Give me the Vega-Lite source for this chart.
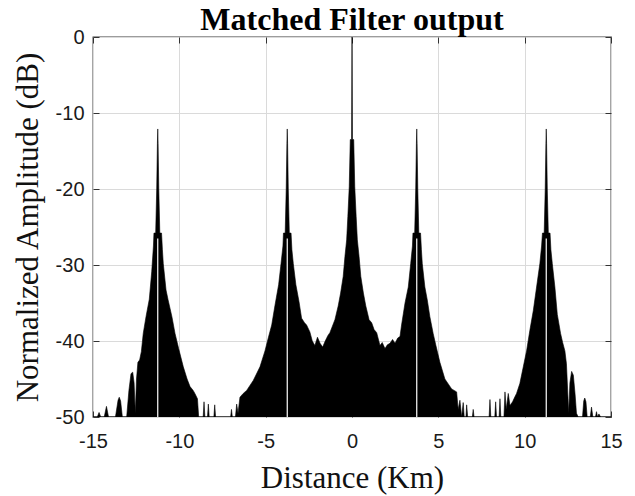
{
  "$schema": "https://vega.github.io/schema/vega-lite/v6.json",
  "width": 518,
  "height": 380,
  "autosize": {"type": "none"},
  "padding": {"left": 93, "top": 37, "right": 24, "bottom": 79},
  "background": "white",
  "title": {"text": "Matched Filter output", "font": "Liberation Serif", "fontSize": 32, "fontWeight": "bold", "color": "black", "anchor": "middle", "baseline": "bottom", "offset": -42, "frame": "group"},
  "config": {
    "view": {"stroke": "#3a3a3a", "strokeWidth": 1.3},
    "axis": {"domain": false, "tickColor": "#333333", "tickSize": -6, "tickWidth": 1, "gridColor": "#dadada", "gridWidth": 1, "labelFont": "Liberation Sans", "labelFontSize": 20, "labelColor": "#1a1a1a", "labelFlush": false, "titleFont": "Liberation Serif", "titleFontSize": 31, "titleFontWeight": "normal", "titleColor": "#111111"}
  },
  "datasets": {
    "env": [
      {"x": -15, "y": -50}, {"x": -14.75, "y": -50}, {"x": -14.65, "y": -49.4}, {"x": -14.55, "y": -50},
      {"x": -14.35, "y": -50}, {"x": -14.22, "y": -48.6}, {"x": -14.1, "y": -50},
      {"x": -13.7, "y": -50}, {"x": -13.55, "y": -47.8}, {"x": -13.48, "y": -47.4}, {"x": -13.4, "y": -47.9}, {"x": -13.3, "y": -50},
      {"x": -13.05, "y": -50}, {"x": -12.92, "y": -46.5}, {"x": -12.8, "y": -44.3}, {"x": -12.7, "y": -44.1}, {"x": -12.62, "y": -45.5}, {"x": -12.55, "y": -49.5},
      {"x": -12.48, "y": -45}, {"x": -12.4, "y": -42.8}, {"x": -12.3, "y": -42.5}, {"x": -12.2, "y": -41.4}, {"x": -12.09, "y": -39},
      {"x": -11.93, "y": -36.8}, {"x": -11.74, "y": -34.5}, {"x": -11.6, "y": -30.9}, {"x": -11.5, "y": -27.5}, {"x": -11.47, "y": -25.8},
      {"x": -11.37, "y": -25.8}, {"x": -11.31, "y": -20}, {"x": -11.27, "y": -14}, {"x": -11.25, "y": -12.1}, {"x": -11.23, "y": -14},
      {"x": -11.19, "y": -20}, {"x": -11.13, "y": -25.8}, {"x": -11.03, "y": -25.8}, {"x": -10.98, "y": -28}, {"x": -10.93, "y": -29.8},
      {"x": -10.77, "y": -33.3}, {"x": -10.65, "y": -34.6}, {"x": -10.43, "y": -36.8}, {"x": -10.25, "y": -39}, {"x": -10.04, "y": -41},
      {"x": -9.77, "y": -43.4}, {"x": -9.55, "y": -45}, {"x": -9.38, "y": -46}, {"x": -9.2, "y": -46.5}, {"x": -9.1, "y": -46.9},
      {"x": -8.95, "y": -47.6}, {"x": -8.88, "y": -50}, {"x": -8.62, "y": -50}, {"x": -8.57, "y": -48}, {"x": -8.52, "y": -50},
      {"x": -8.37, "y": -50}, {"x": -8.32, "y": -48.3}, {"x": -8.27, "y": -50}, {"x": -8.0, "y": -50}, {"x": -7.95, "y": -48.4}, {"x": -7.9, "y": -50},
      {"x": -7.03, "y": -50}, {"x": -6.98, "y": -49}, {"x": -6.93, "y": -50}, {"x": -6.75, "y": -50}, {"x": -6.68, "y": -48.3}, {"x": -6.6, "y": -49.5},
      {"x": -6.49, "y": -47.4}, {"x": -6.3, "y": -46.9}, {"x": -6.1, "y": -46.5}, {"x": -5.72, "y": -45.2}, {"x": -5.33, "y": -43.4},
      {"x": -5.04, "y": -41.3}, {"x": -4.85, "y": -39.6}, {"x": -4.65, "y": -37.9}, {"x": -4.46, "y": -35.3}, {"x": -4.25, "y": -32.6},
      {"x": -4.11, "y": -29.8}, {"x": -4.0, "y": -27.5}, {"x": -3.97, "y": -25.8}, {"x": -3.87, "y": -25.8}, {"x": -3.81, "y": -20},
      {"x": -3.77, "y": -14}, {"x": -3.75, "y": -12.1}, {"x": -3.73, "y": -14}, {"x": -3.69, "y": -20}, {"x": -3.63, "y": -25.8},
      {"x": -3.53, "y": -25.8}, {"x": -3.48, "y": -28}, {"x": -3.4, "y": -29.8}, {"x": -3.25, "y": -32.6}, {"x": -3.07, "y": -34.8},
      {"x": -2.92, "y": -37}, {"x": -2.75, "y": -37.6}, {"x": -2.63, "y": -37.9}, {"x": -2.44, "y": -38.8}, {"x": -2.3, "y": -40},
      {"x": -2.15, "y": -40.6}, {"x": -2.0, "y": -39.5}, {"x": -1.85, "y": -40.3}, {"x": -1.7, "y": -40.8}, {"x": -1.55, "y": -40},
      {"x": -1.4, "y": -39.3}, {"x": -1.28, "y": -38.9}, {"x": -0.99, "y": -37.2}, {"x": -0.8, "y": -35.4}, {"x": -0.66, "y": -33.7},
      {"x": -0.51, "y": -31.5}, {"x": -0.41, "y": -28.9}, {"x": -0.31, "y": -26.7}, {"x": -0.24, "y": -23.6}, {"x": -0.16, "y": -19.7},
      {"x": -0.1, "y": -13.5}, {"x": -0.025, "y": -13.5}, {"x": 0, "y": 0}, {"x": 0.025, "y": -13.5}, {"x": 0.1, "y": -13.5},
      {"x": 0.16, "y": -19.7}, {"x": 0.24, "y": -23.6}, {"x": 0.31, "y": -26.7}, {"x": 0.41, "y": -28.9}, {"x": 0.51, "y": -31.5},
      {"x": 0.66, "y": -33.7}, {"x": 0.8, "y": -35.4}, {"x": 0.99, "y": -37.2}, {"x": 1.14, "y": -37.6}, {"x": 1.28, "y": -38.5},
      {"x": 1.43, "y": -38.9}, {"x": 1.62, "y": -40.6}, {"x": 1.75, "y": -40.2}, {"x": 1.91, "y": -41}, {"x": 2.05, "y": -40.5},
      {"x": 2.2, "y": -40.3}, {"x": 2.35, "y": -39.8}, {"x": 2.49, "y": -40.3}, {"x": 2.65, "y": -39.6}, {"x": 2.78, "y": -39.4},
      {"x": 2.87, "y": -37.9}, {"x": 3.07, "y": -35}, {"x": 3.26, "y": -32.9}, {"x": 3.4, "y": -29.8}, {"x": 3.5, "y": -27.5},
      {"x": 3.53, "y": -25.8}, {"x": 3.63, "y": -25.8}, {"x": 3.69, "y": -20}, {"x": 3.73, "y": -14}, {"x": 3.75, "y": -12.1},
      {"x": 3.77, "y": -14}, {"x": 3.81, "y": -20}, {"x": 3.87, "y": -25.8}, {"x": 3.97, "y": -25.8}, {"x": 4.02, "y": -28},
      {"x": 4.07, "y": -29.8}, {"x": 4.22, "y": -32.9}, {"x": 4.36, "y": -34.6}, {"x": 4.51, "y": -36.8}, {"x": 4.7, "y": -39},
      {"x": 4.86, "y": -40.6}, {"x": 5.09, "y": -42.8}, {"x": 5.38, "y": -45}, {"x": 5.77, "y": -46.3}, {"x": 6.06, "y": -46.7},
      {"x": 6.15, "y": -49}, {"x": 6.25, "y": -47.8}, {"x": 6.35, "y": -50}, {"x": 6.44, "y": -48.1}, {"x": 6.5, "y": -50},
      {"x": 6.6, "y": -50}, {"x": 6.64, "y": -48.4}, {"x": 6.7, "y": -50}, {"x": 6.97, "y": -50}, {"x": 7.02, "y": -49}, {"x": 7.07, "y": -50},
      {"x": 7.94, "y": -50}, {"x": 7.99, "y": -47.7}, {"x": 8.04, "y": -50}, {"x": 8.27, "y": -50}, {"x": 8.32, "y": -48}, {"x": 8.37, "y": -50},
      {"x": 8.52, "y": -50}, {"x": 8.57, "y": -47.6}, {"x": 8.62, "y": -50}, {"x": 8.8, "y": -50}, {"x": 8.86, "y": -46.7}, {"x": 8.93, "y": -49},
      {"x": 9.05, "y": -46.9}, {"x": 9.15, "y": -48.5}, {"x": 9.3, "y": -48}, {"x": 9.4, "y": -47.5}, {"x": 9.53, "y": -46.9},
      {"x": 9.72, "y": -45.6}, {"x": 9.92, "y": -43.4}, {"x": 10.11, "y": -41.3}, {"x": 10.3, "y": -38.6}, {"x": 10.5, "y": -36},
      {"x": 10.69, "y": -32.9}, {"x": 10.88, "y": -29.8}, {"x": 10.98, "y": -27.5}, {"x": 11.03, "y": -25.8}, {"x": 11.13, "y": -25.8},
      {"x": 11.19, "y": -20}, {"x": 11.23, "y": -14}, {"x": 11.25, "y": -12.1}, {"x": 11.27, "y": -14}, {"x": 11.31, "y": -20},
      {"x": 11.37, "y": -25.8}, {"x": 11.47, "y": -25.8}, {"x": 11.52, "y": -28}, {"x": 11.6, "y": -29.8}, {"x": 11.75, "y": -32.9},
      {"x": 11.89, "y": -36.5}, {"x": 12.08, "y": -39}, {"x": 12.2, "y": -40.2}, {"x": 12.33, "y": -41.3}, {"x": 12.42, "y": -43},
      {"x": 12.5, "y": -47}, {"x": 12.55, "y": -49.5}, {"x": 12.62, "y": -45.5}, {"x": 12.72, "y": -44}, {"x": 12.82, "y": -44.5},
      {"x": 12.92, "y": -47}, {"x": 13.0, "y": -49.5}, {"x": 13.1, "y": -50}, {"x": 13.35, "y": -50}, {"x": 13.42, "y": -47.9},
      {"x": 13.48, "y": -47.5}, {"x": 13.55, "y": -48}, {"x": 13.62, "y": -50}, {"x": 13.8, "y": -50}, {"x": 13.87, "y": -48.7},
      {"x": 13.95, "y": -50}, {"x": 14.1, "y": -50}, {"x": 14.16, "y": -49.3}, {"x": 14.22, "y": -50}, {"x": 14.3, "y": -49.6},
      {"x": 14.4, "y": -50}, {"x": 15, "y": -50}
    ],
    "gaps": [
      {"x": -11.25, "y": -26.5, "y2": -50},
      {"x": -3.75, "y": -26.5, "y2": -50},
      {"x": 3.75, "y": -26.5, "y2": -50},
      {"x": 11.25, "y": -26.5, "y2": -50}
    ]
  },
  "layer": [
    {
      "data": {"name": "env"},
      "mark": {"type": "area", "color": "black", "stroke": "black", "strokeWidth": 0.6, "clip": true},
      "encoding": {
        "x": {"field": "x", "type": "quantitative", "scale": {"domain": [-15, 15], "nice": false, "zero": false},
          "axis": {"orient": "bottom", "values": [-15, -10, -5, 0, 5, 10, 15], "grid": true, "labelPadding": 20, "labelExpr": "'' + datum.value",
            "title": "Distance (Km)", "titleX": 259, "titleY": 70, "titleBaseline": "alphabetic", "titleAnchor": "middle"}},
        "y": {"field": "y", "type": "quantitative", "scale": {"domain": [-50, 0], "nice": false, "zero": false},
          "axis": {"orient": "left", "values": [-50, -40, -30, -20, -10, 0], "grid": true, "labelPadding": 15, "labelExpr": "'' + datum.value",
            "title": "Normalized Amplitude (dB)", "titleX": -56, "titleY": 190, "titleAngle": -90, "titleBaseline": "alphabetic", "titleAnchor": "middle"}},
        "y2": {"datum": -50}
      }
    },
    {
      "data": {"name": "gaps"},
      "mark": {"type": "rule", "color": "white", "strokeWidth": 1.2},
      "encoding": {
        "x": {"field": "x", "type": "quantitative", "axis": {"orient": "top", "values": [-15, -10, -5, 0, 5, 10, 15], "labels": false, "grid": false, "title": null}},
        "y": {"field": "y", "type": "quantitative", "axis": {"orient": "right", "values": [-50, -40, -30, -20, -10, 0], "labels": false, "grid": false, "title": null}},
        "y2": {"field": "y2"}
      }
    }
  ],
  "resolve": {"axis": {"x": "independent", "y": "independent"}}
}
